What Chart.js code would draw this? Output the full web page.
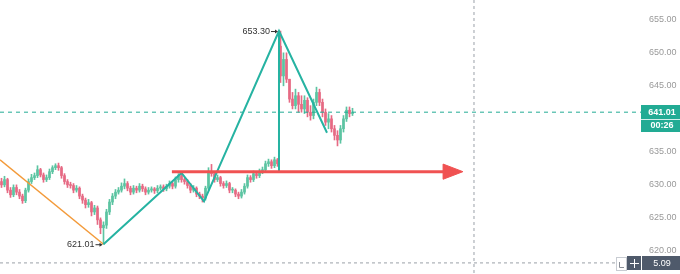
<!DOCTYPE html>
<html>
<head>
<meta charset="utf-8">
<script src="https://cdn.jsdelivr.net/npm/chart.js@4.4.1/dist/chart.umd.min.js"></script>
<style>
  html, body { margin: 0; padding: 0; background: #fff; }
  #wrap { width: 680px; height: 274px; position: relative; }
</style>
</head>
<body>
<div id="wrap"><canvas id="grafico"></canvas></div>
<script>
// velas (uma por barra, indice 0..117)
const aberturas = [630.5, 630.0, 630.8, 629.2, 628.5, 629.6, 628.9, 628.3, 627.6, 629.2,
  630.5, 631.1, 631.4, 632.3, 631.5, 630.8, 631.1, 632.0, 632.6, 632.9,
  632.6, 631.4, 630.5, 630.0, 629.9, 629.2, 629.5, 628.3, 627.7, 627.0,
  627.3, 625.9, 626.5, 624.7, 623.5, 623.9, 625.9, 627.4, 628.3, 628.9,
  629.2, 629.8, 630.2, 629.5, 628.9, 629.5, 629.2, 629.8, 629.4, 628.9,
  629.2, 629.4, 629.1, 629.5, 629.7, 629.4, 629.8, 630.2, 629.8, 630.8,
  631.4, 630.8, 630.5, 629.9, 629.2, 629.5, 628.6, 628.3, 628.0, 629.5,
  632.0, 631.7, 630.8, 631.1, 630.2, 629.9, 630.2, 629.2, 629.2, 628.6,
  628.3, 628.9, 629.8, 631.1, 630.8, 631.7, 631.4, 632.0, 632.3, 633.2,
  633.5, 632.9, 633.8, 651.0, 646.5, 649.0, 646.0, 643.0, 642.0, 643.5,
  642.2, 641.5, 642.8, 641.0, 640.5, 642.5, 644.0, 642.5, 641.0, 639.5,
  640.0, 638.5, 637.5, 636.8, 638.5, 640.0, 641.3, 640.8];
const fechamentos = [630.0, 630.8, 629.2, 628.5, 629.6, 628.9, 628.3, 627.6, 629.2, 630.5,
  631.1, 631.4, 632.3, 631.5, 630.8, 631.1, 632.0, 632.6, 632.9, 632.6,
  631.4, 630.5, 630.0, 629.9, 629.2, 629.5, 628.3, 627.7, 627.0, 627.3,
  625.9, 626.5, 624.7, 623.5, 623.9, 625.9, 627.4, 628.3, 628.9, 629.2,
  629.8, 630.2, 629.5, 628.9, 629.5, 629.2, 629.8, 629.4, 628.9, 629.2,
  629.4, 629.1, 629.5, 629.7, 629.4, 629.8, 630.2, 629.8, 630.8, 631.4,
  630.8, 630.5, 629.9, 629.2, 629.5, 628.6, 628.3, 628.0, 629.5, 632.0,
  631.7, 630.8, 631.1, 630.2, 629.9, 630.2, 629.2, 629.2, 628.6, 628.3,
  628.9, 629.8, 631.1, 630.8, 631.7, 631.4, 632.0, 632.3, 633.2, 633.5,
  632.9, 633.8, 633.2, 646.5, 649.0, 646.0, 643.0, 642.0, 643.5, 642.2,
  641.5, 642.8, 641.0, 640.5, 642.5, 644.0, 642.5, 641.0, 639.5, 640.0,
  638.5, 637.5, 636.8, 638.5, 640.0, 641.3, 640.8, 641.01];
const maximas = [631.0, 631.3, 631.0, 629.6, 630.0, 630.0, 629.3, 628.6, 629.5, 630.9,
  631.6, 631.8, 632.9, 632.5, 631.8, 631.5, 632.4, 632.9, 633.2, 633.3,
  632.8, 631.7, 630.8, 630.4, 630.2, 629.9, 629.7, 628.6, 628.0, 627.8,
  627.5, 626.9, 626.8, 625.0, 624.4, 626.3, 627.8, 628.7, 629.3, 629.6,
  630.3, 630.9, 630.5, 629.8, 629.9, 629.8, 630.2, 630.1, 629.7, 629.6,
  629.7, 629.6, 629.9, 630.0, 630.0, 630.1, 630.6, 630.4, 631.2, 631.7,
  631.9, 631.1, 630.8, 630.2, 629.9, 629.7, 628.9, 628.6, 629.8, 632.6,
  633.1, 632.0, 631.5, 631.3, 630.5, 630.6, 630.4, 629.6, 629.4, 628.9,
  629.3, 630.2, 631.5, 631.4, 632.1, 631.9, 632.4, 632.7, 633.6, 633.9,
  633.8, 634.2, 634.0, 653.3, 650.0, 650.0, 646.0, 644.0, 644.5, 644.0,
  643.5, 643.5, 643.2, 642.0, 643.0, 644.8, 644.5, 643.0, 641.5, 640.8,
  640.5, 639.0, 638.2, 639.0, 640.5, 641.8, 641.8, 641.6];
const minimas = [629.6, 629.7, 628.8, 628.1, 628.2, 628.5, 627.9, 627.2, 627.3, 628.9,
  630.2, 630.8, 631.1, 631.2, 630.4, 630.5, 630.8, 631.7, 632.3, 632.2,
  631.0, 630.1, 629.6, 629.5, 628.8, 628.9, 627.9, 627.2, 626.5, 626.6,
  625.3, 625.5, 624.0, 622.6, 621.01, 623.4, 625.5, 627.0, 627.9, 628.6,
  628.9, 629.4, 629.1, 628.5, 628.6, 628.8, 628.9, 629.0, 628.5, 628.6,
  628.9, 628.7, 628.8, 629.2, 629.0, 629.1, 629.5, 629.4, 629.5, 630.4,
  630.4, 630.1, 629.5, 628.8, 628.9, 628.2, 627.9, 627.4, 627.7, 629.2,
  631.3, 630.4, 630.5, 629.8, 629.5, 629.6, 628.8, 628.8, 628.2, 627.9,
  628.0, 628.6, 629.5, 630.4, 630.5, 631.0, 631.1, 631.7, 632.0, 632.8,
  632.5, 632.6, 632.8, 645.5, 645.0, 645.5, 642.5, 641.5, 641.5, 641.0,
  641.0, 640.8, 640.3, 639.8, 640.0, 642.0, 642.0, 640.3, 639.0, 638.5,
  638.0, 636.8, 635.9, 636.3, 638.0, 639.6, 640.3, 640.5];

// desenhos (x = indice da barra, y = preco)
const zigueX = [34, 60, 67.5, 92.5, 108.5];
const zigueY = [621.01, 631.8, 627.5, 653.3, 637.9];
const verticalX = [92.5, 92.5];
const verticalY = [653.3, 632.1];
const laranjaX = [-0.5, 34];
const laranjaY = [633.8, 621.01];
const setaX = [56.8, 148];
const setaY = [632.0, 632.0];
const pontaX = [147.2, 153.8, 147.2, 147.2];
const pontaY = [633.15, 632.0, 630.85, 633.15];
const miraX = 157.5;        // linha vertical tracejada
const miraPreco = 618.18;   // linha horizontal tracejada
const miraFimX = 205.2;

const precoAtual = 641.01;
const precoTopo = 653.3;
const precoFundo = 621.01;
const topoIdx = 92.5;
const fundoIdx = 34;

const ticksPreco = [620, 625, 630, 635, 645, 650, 655];

const VERDE = '#22ab94';
const ALTA = '#5cc4a2';
const BAIXA = '#e66a84';
const FONTE = '"Liberation Sans", Arial, sans-serif';

const pontos = (xs, ys) => xs.map((v, i) => ({ x: v, y: ys[i] }));
const corVela = (ctx) => fechamentos[ctx.dataIndex] >= aberturas[ctx.dataIndex] ? ALTA : BAIXA;

function linha(xs, ys, cor, largura, extra) {
    return Object.assign({
        type: 'line',
        data: pontos(xs, ys),
        borderColor: cor,
        borderWidth: largura,
        pointRadius: 0,
        tension: 0,
        fill: false,
        order: 0
    }, extra || {});
}

const plugRotulos = {
    id: 'rotulos',
    afterDraw(chart) {
        const { ctx, chartArea, scales: { x, y } } = chart;
        ctx.save();

        // rotulos de topo e fundo com setinha
        ctx.font = '9px ' + FONTE;
        ctx.fillStyle = '#333';
        ctx.textBaseline = 'middle';
        ctx.textAlign = 'right';
        const marcas = [[topoIdx, precoTopo], [fundoIdx, precoFundo]];
        marcas.forEach(([i, p]) => {
            const px = x.getPixelForValue(i) - 1;
            const py = y.getPixelForValue(p);
            ctx.fillStyle = '#333';
            ctx.fillText(p.toFixed(2), px - 8, py + 0.5);
            ctx.strokeStyle = '#333';
            ctx.lineWidth = 1;
            ctx.beginPath();
            ctx.moveTo(px - 7, py + 0.5);
            ctx.lineTo(px - 1, py + 0.5);
            ctx.stroke();
            ctx.beginPath();
            ctx.moveTo(px, py + 0.5);
            ctx.lineTo(px - 3, py - 1.5);
            ctx.lineTo(px - 3, py + 2.5);
            ctx.closePath();
            ctx.fill();
        });

        // caixa do preco atual
        const right = chartArea.right;
        const yp = Math.round(y.getPixelForValue(precoAtual));
        ctx.fillStyle = VERDE;
        ctx.fillRect(right, yp - 7, 680 - right, 27);
        ctx.fillStyle = 'rgba(255,255,255,0.8)';
        ctx.fillRect(right, yp + 7, 680 - right, 1);
        ctx.fillStyle = '#fff';
        ctx.textAlign = 'center';
        ctx.font = 'bold 9px ' + FONTE;
        ctx.fillText(precoAtual.toFixed(2), right + 21, yp + 0.5);
        ctx.fillText('00:26', right + 21, yp + 14);

        // caixas da mira
        ctx.font = '9px ' + FONTE;
        const ym = Math.round(y.getPixelForValue(miraPreco));
        ctx.fillStyle = '#4f5a6b';
        ctx.fillRect(right + 1, ym - 7, 680 - right - 1, 14);
        ctx.fillRect(right - 14, ym - 7, 14, 14);
        ctx.fillStyle = '#fff';
        ctx.fillText('5.09', right + 21, ym + 0.5);
        ctx.fillRect(right - 11, ym, 9, 1);
        ctx.fillRect(right - 7, ym - 4, 1, 9);
        ctx.strokeStyle = '#c8ccd2';
        ctx.fillStyle = '#fff';
        ctx.fillRect(right - 24.5, ym - 5.5, 10, 13);
        ctx.strokeRect(right - 24.5, ym - 5.5, 10, 13);
        ctx.strokeStyle = '#8a8f97';
        ctx.beginPath();
        ctx.moveTo(right - 21.5, ym - 1);
        ctx.lineTo(right - 21.5, ym + 4.5);
        ctx.lineTo(right - 17, ym + 4.5);
        ctx.stroke();
        ctx.restore();
    }
};

const ctxGrafico = document.getElementById('grafico').getContext('2d');
new Chart(ctxGrafico, {
    type: 'bar',
    data: {
        datasets: [
            linha(setaX, setaY, '#f05252', 3),
            linha(pontaX, pontaY, '#f05252', 1, { fill: 'shape', backgroundColor: '#f05252' }),
            linha(zigueX, zigueY, '#26b3a2', 2),
            linha(verticalX, verticalY, '#26b3a2', 2),
            linha(laranjaX, laranjaY, '#f39a3a', 1.5),
            linha([-0.5, 213.2], [precoAtual, precoAtual], VERDE, 1, { borderDash: [4, 4], order: 5 }),
            linha([miraX, miraX], [658, 616.5], '#9aa0a8', 1, { borderDash: [3, 3], order: 5 }),
            linha([-0.5, miraFimX], [miraPreco, miraPreco], '#9aa0a8', 1, { borderDash: [3, 3], order: 5 }),
            {
                label: 'pavio',
                data: minimas.map((v, i) => ({ x: i, y: [v, maximas[i]] })),
                backgroundColor: corVela,
                barThickness: 1,
                grouped: false,
                order: 10
            },
            {
                label: 'corpo',
                data: aberturas.map((v, i) => ({ x: i, y: [v, fechamentos[i]] })),
                backgroundColor: corVela,
                barThickness: 2,
                minBarLength: 1,
                grouped: false,
                order: 9
            }
        ]
    },
    options: {
        responsive: true,
        maintainAspectRatio: false,
        animation: false,
        layout: { padding: 0 },
        plugins: { legend: { display: false }, tooltip: { enabled: false } },
        scales: {
            x: {
                type: 'linear',
                min: -0.5,
                max: 213.17,
                offset: false,
                display: false
            },
            y: {
                position: 'right',
                min: 616.5,
                max: 658,
                grid: { display: false, drawTicks: false },
                border: { display: false },
                ticks: {
                    padding: 8,
                    color: '#999',
                    font: { size: 9, family: FONTE },
                    callback: (v) => Number(v).toFixed(2)
                },
                afterBuildTicks: (eixo) => { eixo.ticks = ticksPreco.map(v => ({ value: v })); },
                afterFit: (eixo) => {
                    eixo.width = 39;
                    eixo.paddingTop = 0;
                    eixo.paddingBottom = 0;
                }
            }
        }
    },
    plugins: [plugRotulos]
});
</script>
</body>
</html>
